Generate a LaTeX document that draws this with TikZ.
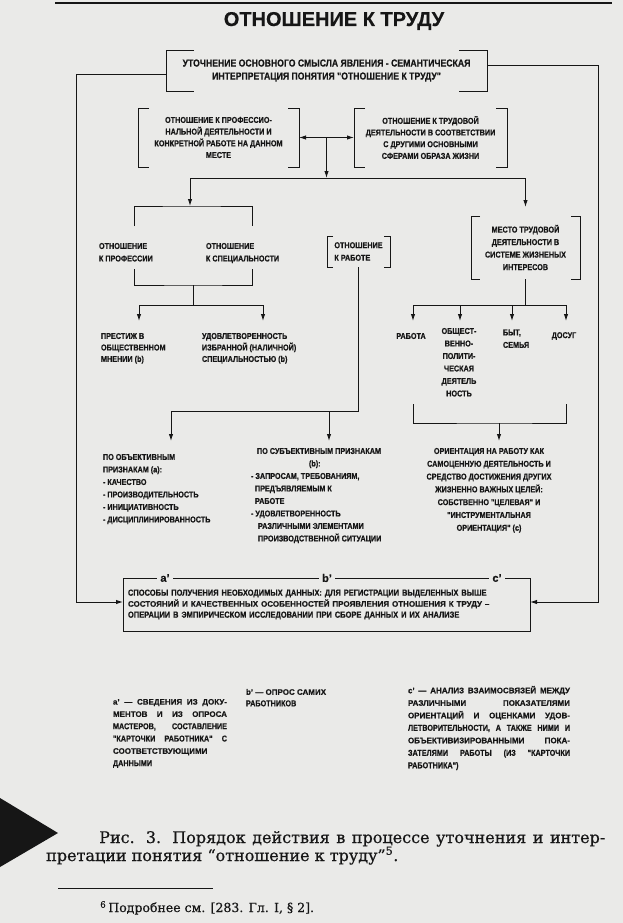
\documentclass[tikz,border=0pt]{standalone}
\usepackage{fontspec}
\newfontfamily\narrowsf{Liberation Sans}[FakeStretch=0.85, BoldFeatures={FakeBold=0.5}]
\newfontfamily\widesf{Liberation Sans}[BoldFeatures={FakeBold=0.3}]
\newfontfamily\capfont{DejaVu Serif}[FakeBold=0.6]
\usetikzlibrary{arrows.meta}
\definecolor{paper}{RGB}{234,234,232}
\definecolor{ink}{RGB}{22,22,22}
\newcommand\szf[2]{\narrowsf\bfseries\fontsize{#1}{#2}\selectfont}
\newcommand\wl[1]{{\widesf\bfseries\fontsize{8}{10}\selectfont #1}}
\newcommand\drawbrackets[2]{%
  \draw[ln] ([xshift=#2pt]#1.north west) -- (#1.north west) -- (#1.south west) -- ([xshift=#2pt]#1.south west);
  \draw[ln] ([xshift=-#2pt]#1.north east) -- (#1.north east) -- (#1.south east) -- ([xshift=-#2pt]#1.south east);}
\tikzset{
  ln/.style={draw=ink, line width=0.9pt},
  arr/.style={ln, -{Latex[length=7pt,width=4.4pt]}},
  darr/.style={ln, {Latex[length=7pt,width=4.4pt]}-{Latex[length=7pt,width=4.4pt]}},
  txt/.style={inner sep=0pt, outer sep=0pt, text=ink, font=\szf{8.5}{12.5}},
  lab/.style={fill=paper, text=ink, inner xsep=3pt, inner ysep=1pt, font=\widesf\bfseries\fontsize{11}{12}\selectfont},
}
\begin{document}
\begin{tikzpicture}[x=1pt,y=-1pt]
\useasboundingbox (0,0) rectangle (623,923);
\fill[paper] (0,0) rectangle (623,923);

% top rule and title
\coordinate (r1) at (55,3); \coordinate (r2) at (612,3);
\draw[ink, line width=1.5pt] (r1) -- (r2);
\node[text=ink, inner sep=0pt, font=\widesf\bfseries\fontsize{20}{24}\selectfont] (title) at (334,21) {ОТНОШЕНИЕ К ТРУДУ};

% bracket boxes
\node[txt, align=center, minimum width=321pt, minimum height=41pt, font=\szf{10.2}{13}] (top) at (326.5,70.5)
  {УТОЧНЕНИЕ ОСНОВНОГО СМЫСЛА ЯВЛЕНИЯ - СЕМАНТИЧЕСКАЯ\\ИНТЕРПРЕТАЦИЯ ПОНЯТИЯ "ОТНОШЕНИЕ К ТРУДУ"};
\drawbrackets{top}{28}

\node[txt, align=center, minimum width=161pt, minimum height=59pt, font=\szf{8.5}{11.7}] (proact) at (218.5,137.5)
  {ОТНОШЕНИЕ К ПРОФЕССИО-\\НАЛЬНОЙ ДЕЯТЕЛЬНОСТИ И\\КОНКРЕТНОЙ РАБОТЕ НА ДАННОМ\\МЕСТЕ};
\drawbrackets{proact}{11}

\node[txt, align=center, minimum width=153pt, minimum height=59pt, font=\szf{8.5}{11.7}] (lifeact) at (430.5,137.5)
  {ОТНОШЕНИЕ К ТРУДОВОЙ\\ДЕЯТЕЛЬНОСТИ В СООТВЕТСТВИИ\\С ДРУГИМИ ОСНОВНЫМИ\\СФЕРАМИ ОБРАЗА ЖИЗНИ};
\drawbrackets{lifeact}{11}

\node[txt, align=left, minimum width=63pt, minimum height=31pt] (work) at (358.5,251.5) {ОТНОШЕНИЕ\\К РАБОТЕ};
\drawbrackets{work}{6}

\node[txt, align=center, minimum width=109pt, minimum height=63pt] (place) at (525.5,247.5)
  {МЕСТО ТРУДОВОЙ\\ДЕЯТЕЛЬНОСТИ В\\СИСТЕМЕ ЖИЗНЕНЫХ\\ИНТЕРЕСОВ};
\drawbrackets{place}{9}

% level 2 connectors
\coordinate (mid) at (326.5,137.5);
\coordinate (j1) at (326.5,178);
\coordinate (jl) at (190,178);
\coordinate (jr) at (525.5,178);
\coordinate (pitop) at (190,206);
\coordinate (plarr) at (525.5,207);
\draw[darr] (proact.east) -- (lifeact.west);
\draw[arr] (mid) -- (j1);
\draw[ln] (jl) -- (jr);
\draw[arr] (jl) -- (pitop);
\draw[arr] (jr) -- (plarr);

% profession / speciality group
\draw[ln] (134,226) |- (pitop) -| (252,226);
\node[txt, anchor=north west, align=left] (prof) at (99,243) {ОТНОШЕНИЕ\\К ПРОФЕССИИ};
\node[txt, anchor=north west, align=left] (spec) at (206,243) {ОТНОШЕНИЕ\\К СПЕЦИАЛЬНОСТИ};
\coordinate (u1) at (193,285);
\coordinate (u2) at (193,305);
\draw[ln] (134,269) |- (u1) -| (252,269);
\draw[ln] (u1) -- (u2);
\coordinate (s1) at (139,305); \coordinate (s2) at (263,305);
\draw[ln] (s1) -- (s2);
\draw[arr] (s1) -- (139,321);
\draw[arr] (s2) -- (263,321);
\node[txt, anchor=north west, align=left, font=\szf{8.5}{11.5}] (prest) at (101,333)
  {ПРЕСТИЖ В\\ОБЩЕСТВЕННОМ\\МНЕНИИ (b)};
\node[txt, anchor=north west, align=left, font=\szf{8.5}{11.5}] (satis) at (202,333)
  {УДОВЛЕТВОРЕННОСТЬ\\ИЗБРАННОЙ (НАЛИЧНОЙ)\\СПЕЦИАЛЬНОСТЬЮ (b)};

% place of work branches
\coordinate (p1) at (525.5,305);
\draw[ln] (place.south) -- (p1);
\coordinate (b1) at (413,305); \coordinate (b4) at (566,305);
\draw[ln] (b1) -- (b4);
\draw[arr] (b1) -- (413,321);
\draw[arr] (460,305) -- (460,321);
\draw[arr] (512,305) -- (512,321);
\draw[arr] (b4) -- (566,321);
\node[txt] (rab) at (411,336) {РАБОТА};
\node[txt, anchor=north, align=center] (obsh) at (459,328) {ОБЩЕСТ-\\ВЕННО-\\ПОЛИТИ-\\ЧЕСКАЯ\\ДЕЯТЕЛЬ\\НОСТЬ};
\node[txt, anchor=north west, align=left] (byt) at (503,329.5) {БЫТ,\\СЕМЬЯ};
\node[txt] (dosug) at (564,336) {ДОСУГ};
\coordinate (v1) at (499,423);
\draw[ln] (413,404) |- (v1) -| (566,404);
\draw[arr] (v1) -- (499,441);

% work attitude branches
\coordinate (w1) at (171,411);
\draw[ln] (work.south) |- (w1);
\draw[arr] (w1) -- (171,441);
\draw[arr] (329,411) -- (329,441);

\node[txt, anchor=north west, align=left] (obj) at (103,454)
  {ПО ОБЪЕКТИВНЫМ\\ПРИЗНАКАМ (а):\\- КАЧЕСТВО\\- ПРОИЗВОДИТЕЛЬНОСТЬ\\- ИНИЦИАТИВНОСТЬ\\- ДИСЦИПЛИНИРОВАННОСТЬ};
\node[txt, anchor=north west, align=left] (subj) at (251,448)
  {\hspace*{6pt}ПО СУБЪЕКТИВНЫМ ПРИЗНАКАМ\\\hspace*{58pt}(b):\\- ЗАПРОСАМ, ТРЕБОВАНИЯМ,\\\hspace*{4pt}ПРЕДЪЯВЛЯЕМЫМ К\\\hspace*{4pt}РАБОТЕ\\- УДОВЛЕТВОРЕННОСТЬ\\\hspace*{7pt}РАЗЛИЧНЫМИ ЭЛЕМЕНТАМИ\\\hspace*{7pt}ПРОИЗВОДСТВЕННОЙ СИТУАЦИИ};
\node[txt, anchor=north, align=center, font=\szf{8.5}{12.8}] (orient) at (489,448)
  {ОРИЕНТАЦИЯ НА РАБОТУ КАК\\САМОЦЕННУЮ ДЕЯТЕЛЬНОСТЬ И\\СРЕДСТВО ДОСТИЖЕНИЯ ДРУГИХ\\ЖИЗНЕННО ВАЖНЫХ ЦЕЛЕЙ:\\СОБСТВЕННО "ЦЕЛЕВАЯ" И\\"ИНСТРУМЕНТАЛЬНАЯ\\ОРИЕНТАЦИЯ" (с)};

% methods box
\node[txt, draw=ink, line width=0.9pt, minimum width=407pt, minimum height=53pt, text width=397pt, inner xsep=5pt, align=left, font=\szf{8.8}{11}] (meth) at (326.5,604.5)
  {СПОСОБЫ ПОЛУЧЕНИЯ НЕОБХОДИМЫХ ДАННЫХ: ДЛЯ РЕГИСТРАЦИИ ВЫДЕЛЕННЫХ ВЫШЕ\\\wl{СОСТОЯНИЙ И КАЧЕСТВЕННЫХ ОСОБЕННОСТЕЙ ПРОЯВЛЕНИЯ ОТНОШЕНИЯ К ТРУДУ –}\\ОПЕРАЦИИ В ЭМПИРИЧЕСКОМ ИССЛЕДОВАНИИ ПРИ СБОРЕ ДАННЫХ И ИХ АНАЛИЗЕ};
\node[lab] (ap) at (165,578) {a’};
\node[lab] (bp) at (327,578) {b’};
\node[lab] (cp) at (497,578) {c’};
\draw[arr] ([yshift=-3.5pt]top.west) -- ++(-90,0) |- ([yshift=2.5pt]meth.west);
\draw[arr] ([yshift=5.5pt]top.east) -- ++(111,0) |- ([yshift=2.5pt]meth.east);

% notes
\node[txt, anchor=north west, align=left, font=\szf{8.5}{12.3}] (anote) at (113,699)
  {\makebox[114pt][s]{\wl{a’ — СВЕДЕНИЯ ИЗ ДОКУ-}}\\
   \makebox[114pt][s]{\wl{МЕНТОВ И ИЗ ОПРОСА}}\\
   \makebox[114pt][s]{МАСТЕРОВ, СОСТАВЛЕНИЕ}\\
   \makebox[114pt][s]{"КАРТОЧКИ РАБОТНИКА" С}\\
   \wl{СООТВЕТСТВУЮЩИМИ}\\
   ДАННЫМИ};
\node[txt, anchor=north west, align=left, font=\szf{8.5}{11.5}] (bnote) at (246,689)
  {\wl{b’ — ОПРОС САМИХ}\\РАБОТНИКОВ};
\node[txt, anchor=north west, align=left, font=\szf{8.5}{12.5}] (cnote) at (408,686)
  {\makebox[162pt][s]{\wl{c’ — АНАЛИЗ ВЗАИМОСВЯЗЕЙ МЕЖДУ}}\\
   \makebox[162pt][s]{\wl{РАЗЛИЧНЫМИ ПОКАЗАТЕЛЯМИ}}\\
   \makebox[162pt][s]{\wl{ОРИЕНТАЦИЙ И ОЦЕНКАМИ УДОВ-}}\\
   \makebox[162pt][s]{ЛЕТВОРИТЕЛЬНОСТИ, А ТАКЖЕ НИМИ И}\\
   \makebox[162pt][s]{\wl{ОБЪЕКТИВИЗИРОВАННЫМИ ПОКА-}}\\
   \makebox[162pt][s]{ЗАТЕЛЯМИ РАБОТЫ (ИЗ "КАРТОЧКИ}\\
   РАБОТНИКА")};

% caption
\fill[ink] (0,798) -- (58,833) -- (0,867) -- cycle;
\node[anchor=base west, inner sep=0pt, text=ink, font=\capfont\fontsize{16}{18}\selectfont] (cap1) at (99,843)
  {\makebox[506pt][s]{Рис. 3. Порядок действия в процессе уточнения и интер-}};
\node[anchor=base west, inner sep=0pt, text=ink, font=\capfont\fontsize{16}{18}\selectfont] (cap2) at (46,861)
  {претации понятия “отношение к труду”\textsuperscript{5}.};
\coordinate (f1) at (58,888); \coordinate (f2) at (213,888);
\draw[ink, line width=1pt] (f1) -- (f2);
\node[anchor=base west, inner sep=0pt, text=ink, font=\capfont\fontsize{12.5}{14}\selectfont] (fn) at (100,912)
  {\textsuperscript{6}\,Подробнее см. [283. Гл. I, § 2].};
\end{tikzpicture}
\end{document}
